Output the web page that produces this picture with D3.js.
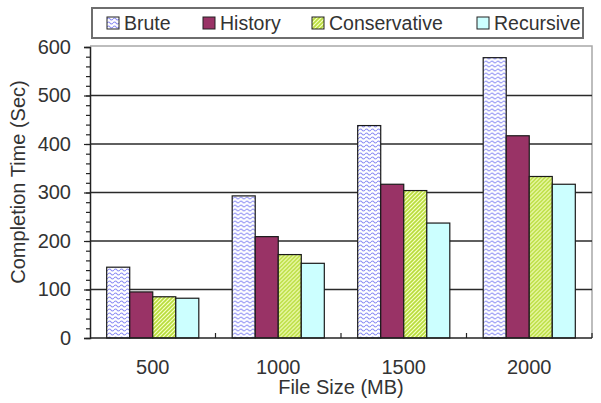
<!DOCTYPE html>
<html>
<head>
<meta charset="utf-8">
<script src="https://cdn.jsdelivr.net/npm/d3@7"></script>
<style>
  html, body { margin: 0; padding: 0; background: #fff; }
  svg { display: block; }
  svg text { font-family: "Liberation Sans", Arial, sans-serif; }
</style>
</head>
<body>
<svg id="chart" width="601" height="403"></svg>
<script>
// Completion time per file size for four strategies
const fileSizes = ["500", "1000", "1500", "2000"];
const seriesNames = ["Brute", "History", "Conservative", "Recursive"];
const brute = [146, 293, 438, 578];
const history = [95, 209, 317, 417];
const conservative = [85, 172, 304, 333];
const recursive = [82, 154, 237, 317];
const yTicks = [0, 100, 200, 300, 400, 500, 600];

const seriesValues = [brute, history, conservative, recursive];
const fills = ["url(#waves)", "#993366", "url(#hatch)", "#ccffff"];
const FONT = "'Liberation Sans', Arial, sans-serif";

const W = 601, H = 403;
const margin = { top: 47, right: 9, bottom: 65, left: 90 };
const svg = d3.select("#chart");

// Fill patterns
const defs = svg.append("defs");
const waves = defs.append("pattern")
  .attr("id", "waves").attr("patternUnits", "userSpaceOnUse")
  .attr("width", 6).attr("height", 4);
waves.append("rect").attr("width", 6).attr("height", 4).attr("fill", "#ffffff");
waves.append("path")
  .attr("d", "M0,2 Q1.5,0 3,2 T6,2")
  .attr("fill", "none").attr("stroke", "#8a8cf4").attr("stroke-width", 1.1);

const hatch = defs.append("pattern")
  .attr("id", "hatch").attr("patternUnits", "userSpaceOnUse")
  .attr("width", 4).attr("height", 4);
hatch.append("rect").attr("width", 4).attr("height", 4).attr("fill", "#f6ffc4");
hatch.append("path")
  .attr("d", "M-1,1 L1,-1 M0,4 L4,0 M3,5 L5,3")
  .attr("stroke", "#b8dc3c").attr("stroke-width", 1.6);

const x0 = d3.scaleBand().domain(fileSizes)
  .range([margin.left, W - margin.right]).paddingInner(0).paddingOuter(0);
const bw = x0.bandwidth();
const x1 = d3.scaleBand().domain(seriesNames)
  .range([bw * 0.133, bw * 0.867]).paddingInner(0);
const y = d3.scaleLinear().domain([0, 600]).range([H - margin.bottom, margin.top]);

const plotL = margin.left, plotR = W - margin.right;
const plotT = margin.top, plotB = H - margin.bottom;

// Plot frame (top and right)
svg.append("path")
  .attr("d", `M${plotL},${plotT - 1} H${plotR} V${plotB}`)
  .attr("fill", "none").attr("stroke", "#a8a8a8").attr("stroke-width", 1.5);

// Gridlines
svg.append("g").selectAll("line")
  .data(yTicks.filter(t => t > 0 && t < 600))
  .join("line")
  .attr("x1", plotL).attr("x2", plotR)
  .attr("y1", d => y(d)).attr("y2", d => y(d))
  .attr("stroke", "#2a2a2a").attr("stroke-width", 1.3);

// Bars
const groups = svg.append("g").selectAll("g")
  .data(fileSizes)
  .join("g")
  .attr("transform", d => `translate(${x0(d)},0)`);

groups.selectAll("rect")
  .data((d, i) => seriesNames.map((s, j) => ({ s, j, v: seriesValues[j][i] })))
  .join("rect")
  .attr("x", d => x1(d.s))
  .attr("y", d => y(d.v))
  .attr("width", x1.bandwidth())
  .attr("height", d => y(0) - y(d.v))
  .attr("fill", d => fills[d.j])
  .attr("stroke", "#1a1a1a").attr("stroke-width", 1.2);

// Y axis with minor ticks
const yMinor = d3.axisLeft(y).tickValues(d3.range(0, 601, 20)).tickSize(4).tickFormat("");
svg.append("g").attr("transform", `translate(${plotL},0)`).call(yMinor)
  .call(g => g.select(".domain").remove())
  .selectAll("line").attr("stroke", "#222").attr("stroke-width", 1.2);

const yAxis = d3.axisLeft(y).tickValues(yTicks).tickSize(6).tickPadding(13);
svg.append("g").attr("transform", `translate(${plotL},0)`).call(yAxis)
  .attr("font-family", FONT).attr("font-size", 20)
  .call(g => g.select(".domain").attr("stroke", "#222").attr("stroke-width", 1.5))
  .call(g => g.selectAll("line").attr("stroke", "#222").attr("stroke-width", 1.2))
  .call(g => g.selectAll("text").attr("fill", "#333"));

// X axis: baseline, inward ticks at category boundaries, labels centred
const xAxis = svg.append("g").attr("font-family", FONT);
xAxis.append("line")
  .attr("x1", plotL).attr("x2", plotR).attr("y1", plotB).attr("y2", plotB)
  .attr("stroke", "#222").attr("stroke-width", 1.5);
xAxis.selectAll("line.tick")
  .data(fileSizes.slice(1).concat(["end"]))
  .join("line").attr("class", "tick")
  .attr("x1", d => d === "end" ? plotR : x0(d))
  .attr("x2", d => d === "end" ? plotR : x0(d))
  .attr("y1", plotB).attr("y2", plotB - 5)
  .attr("stroke", "#222").attr("stroke-width", 1.2);
xAxis.selectAll("text")
  .data(fileSizes)
  .join("text")
  .attr("x", d => x0(d) + bw / 2)
  .attr("y", plotB + 36)
  .attr("text-anchor", "middle")
  .attr("font-size", 20).attr("fill", "#333")
  .text(d => d);

// Axis titles
svg.append("text")
  .attr("x", (plotL + plotR) / 2).attr("y", 394)
  .attr("text-anchor", "middle").attr("font-family", FONT)
  .attr("font-size", 20).attr("fill", "#333")
  .text("File Size (MB)");
svg.append("text")
  .attr("transform", `translate(25,182) rotate(-90)`)
  .attr("text-anchor", "middle").attr("font-family", FONT)
  .attr("font-size", 20).attr("fill", "#333")
  .text("Completion Time (Sec)");

// Legend
const legend = svg.append("g").attr("font-family", FONT);
legend.append("rect")
  .attr("x", 92).attr("y", 8).attr("width", 491).attr("height", 30)
  .attr("fill", "#fff").attr("stroke", "#6e6e6e").attr("stroke-width", 2);
const legendX = [107, 203, 312, 477];
const items = legend.selectAll("g.item")
  .data(seriesNames)
  .join("g").attr("class", "item")
  .attr("transform", (d, i) => `translate(${legendX[i]},17)`);
items.append("rect")
  .attr("width", 12).attr("height", 12)
  .attr("fill", (d, i) => fills[i])
  .attr("stroke", "#222").attr("stroke-width", 1);
items.append("text")
  .attr("x", 17).attr("y", 12.5)
  .attr("font-size", 19.5).attr("fill", "#333")
  .text(d => d);
</script>
</body>
</html>
